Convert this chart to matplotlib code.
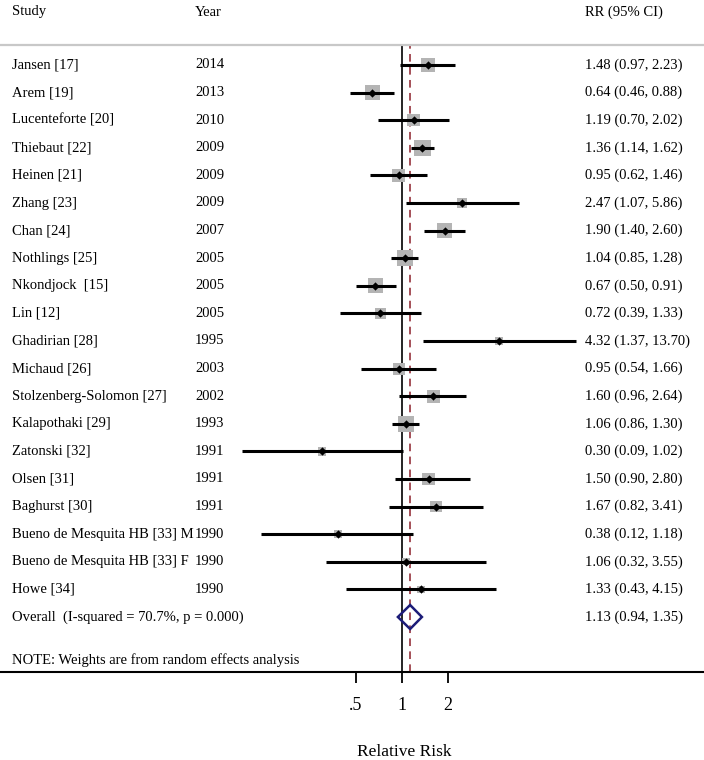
import matplotlib.pyplot as plt
import numpy as np
from matplotlib.patches import Polygon
import matplotlib.transforms as mtransforms

plt.rcParams['font.family'] = ['Liberation Serif', 'DejaVu Serif']

studies = ["Jansen [17]", "Arem [19]", "Lucenteforte [20]", "Thiebaut [22]", "Heinen [21]",
           "Zhang [23]", "Chan [24]", "Nothlings [25]", "Nkondjock  [15]", "Lin [12]",
           "Ghadirian [28]", "Michaud [26]", "Stolzenberg-Solomon [27]", "Kalapothaki [29]",
           "Zatonski [32]", "Olsen [31]", "Baghurst [30]", "Bueno de Mesquita HB [33] M",
           "Bueno de Mesquita HB [33] F", "Howe [34]"]
years = [2014, 2013, 2010, 2009, 2009, 2009, 2007, 2005, 2005, 2005,
         1995, 2003, 2002, 1993, 1991, 1991, 1991, 1990, 1990, 1990]
rr = [1.48, 0.64, 1.19, 1.36, 0.95, 2.47, 1.90, 1.04, 0.67, 0.72,
      4.32, 0.95, 1.60, 1.06, 0.30, 1.50, 1.67, 0.38, 1.06, 1.33]
lo = [0.97, 0.46, 0.70, 1.14, 0.62, 1.07, 1.40, 0.85, 0.50, 0.39,
      1.37, 0.54, 0.96, 0.86, 0.09, 0.90, 0.82, 0.12, 0.32, 0.43]
hi = [2.23, 0.88, 2.02, 1.62, 1.46, 5.86, 2.60, 1.28, 0.91, 1.33,
      13.70, 1.66, 2.64, 1.30, 1.02, 2.80, 3.41, 1.18, 3.55, 4.15]
# approximate weights (%)
weights = [6.0, 6.3, 4.6, 7.8, 5.6, 2.8, 7.0, 7.7, 6.6, 3.8,
           1.7, 4.4, 4.9, 7.7, 2.0, 4.9, 3.8, 2.0, 1.6, 1.8]

overall_rr, overall_lo, overall_hi = 1.13, 0.94, 1.35
overall_label = "Overall  (I-squared = 70.7%, p = 0.000)"
note = "NOTE: Weights are from random effects analysis"

W, H = 704, 760
fig = plt.figure(figsize=(W / 100, H / 100), dpi=100)
ax = fig.add_axes([0, (H - 672) / H, 1, (672 - 45) / H])

row0, step = 65, 27.6  # pixel position of first row, row spacing
ax.set_xscale('log', base=2)
ax.set_xlim(2 ** (-402 / 46), 2 ** (302 / 46))
ax.set_ylim((672 - row0) / step, (45 - row0) / step)

ys = np.arange(len(studies))
fs = 10.5

# boxes, CI lines, point estimates
box_px = 5.8 * np.sqrt(weights)
ax.scatter(rr, ys, s=(box_px * 72 / 100) ** 2, marker='s', color='#b4b4b4', zorder=2, linewidths=0)
ax.hlines(ys, lo, hi, color='black', lw=2.2, zorder=3)
ax.scatter(rr, ys, s=18, marker='D', color='black', zorder=4, linewidths=0)

ax.axvline(1, color='black', lw=1.2, zorder=1)
ax.axvline(overall_rr, color='#8b1f2a', lw=1.1, ls=(0, (5, 3.5)), zorder=1)

# overall diamond
yo = len(studies)
h = 12 / step
diamond = Polygon([(overall_lo, yo), (overall_rr, yo - h), (overall_hi, yo), (overall_rr, yo + h)],
                  closed=True, facecolor='none', edgecolor='#1c1c78', lw=1.8, zorder=5)
ax.add_patch(diamond)

# text columns
tr = mtransforms.blended_transform_factory(ax.transAxes, ax.transData)
x_study, x_year, x_rr = 12 / W, 195 / W, 585 / W
yh = (12 - row0) / step
ax.text(x_study, yh, "Study", transform=tr, fontsize=fs, va='center')
ax.text(x_year, yh, "Year", transform=tr, fontsize=fs, va='center')
ax.text(x_rr, yh, "RR (95% CI)", transform=tr, fontsize=fs, va='center')
for i in range(len(studies)):
    ax.text(x_study, ys[i], studies[i], transform=tr, fontsize=fs, va='center')
    ax.text(x_year, ys[i], str(years[i]), transform=tr, fontsize=fs, va='center')
    ax.text(x_rr, ys[i], f"{rr[i]:.2f} ({lo[i]:.2f}, {hi[i]:.2f})", transform=tr, fontsize=fs, va='center')
ax.text(x_study, yo, overall_label, transform=tr, fontsize=fs, va='center')
ax.text(x_rr, yo, f"{overall_rr:.2f} ({overall_lo:.2f}, {overall_hi:.2f})", transform=tr, fontsize=fs, va='center')
ax.text(x_study, (660 - row0) / step, note, transform=tr, fontsize=fs, va='center')

# axes styling
for s in ['left', 'right']:
    ax.spines[s].set_visible(False)
ax.spines['top'].set_color('#c8c8c8')
ax.spines['top'].set_linewidth(1.6)
ax.spines['bottom'].set_linewidth(1.5)
ax.set_yticks([])
ax.set_xticks([0.5, 1, 2])
ax.set_xticklabels(['.5', '1', '2'])
ax.xaxis.set_minor_locator(plt.NullLocator())
ax.tick_params(axis='x', direction='out', length=8, width=1.3, labelsize=13, pad=10)
fig.text(404 / W, 1 - 752 / H, "Relative Risk", ha='center', va='center', fontsize=12.5)

fig.savefig('out.png', dpi=100)
